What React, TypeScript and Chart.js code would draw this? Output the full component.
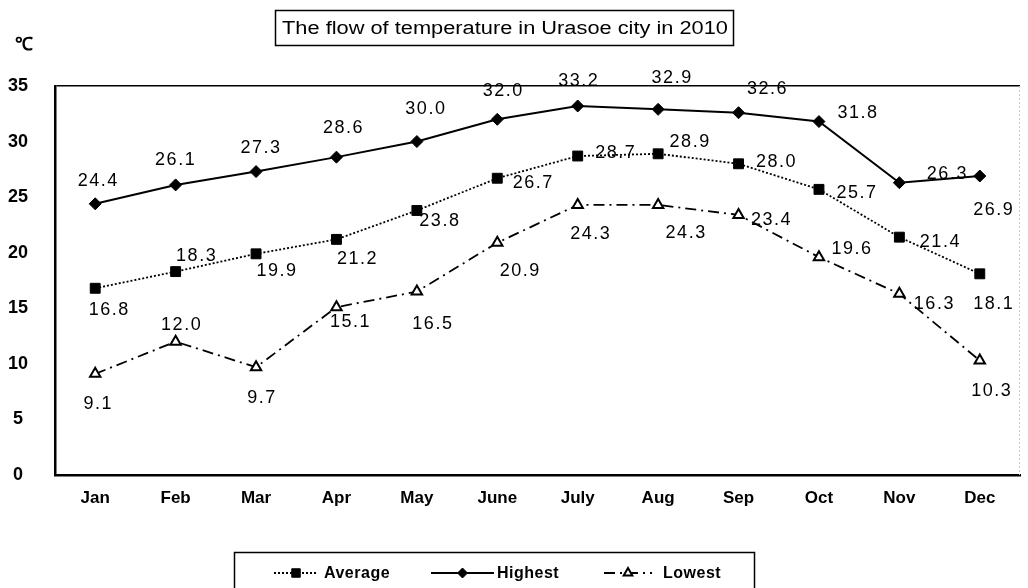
import React, { useEffect, useRef } from "react";
import { Chart, registerables } from "chart.js";

Chart.register(...registerables);

// ---- data ----
const months = ["Jan", "Feb", "Mar", "Apr", "May", "June", "July", "Aug", "Sep", "Oct", "Nov", "Dec"];
const averageTemps = [16.8, 18.3, 19.9, 21.2, 23.8, 26.7, 28.7, 28.9, 28.0, 25.7, 21.4, 18.1];
const highestTemps = [24.4, 26.1, 27.3, 28.6, 30.0, 32.0, 33.2, 32.9, 32.6, 31.8, 26.3, 26.9];
const lowestTemps = [9.1, 12.0, 9.7, 15.1, 16.5, 20.9, 24.3, 24.3, 23.4, 19.6, 16.3, 10.3];
const yTickValues = [0, 5, 10, 15, 20, 25, 30, 35];
const seriesNames = ["Average", "Highest", "Lowest"];
const titleText = "The flow of temperature in Urasoe city in 2010";
const unitText = "℃";

// ---- value label placement (offset of label centre from its point) ----
const averageLabelOffsets = [[13, 22], [20, -16], [20, 17], [20, 20], [22, 11], [35, 5], [37, -3], [31, -12], [37, -2], [37, 4], [40, 5], [13, 30]];
const highestLabelOffsets = [[2, -23], [-1, -25], [4, -24], [6, -29], [8, -33], [5, -28], [0, -25], [13, -31], [28, -24], [38, -9], [47, -9], [13, 34]];
const lowestLabelOffsets = [[2, 30], [5, -17], [5, 31], [13, 15], [15, 32], [22, 28], [12, 29], [27, 28], [32, 5], [32, -8], [34, 10], [11, 31]];

const LABEL_FONT = '18px "Liberation Sans", Arial, sans-serif';
const BOLD_FONT = '"Liberation Sans", Arial, sans-serif';

function drawMarker(ctx: CanvasRenderingContext2D, style: string, x: number, y: number, r: number, fill: string, stroke: string, bw: number) {
  ctx.save();
  ctx.setLineDash([]);
  ctx.beginPath();
  if (style === "rect") {
    const s = Math.SQRT1_2 * r;
    ctx.rect(x - s, y - s, 2 * s, 2 * s);
  } else if (style === "rectRot") {
    ctx.moveTo(x - r, y);
    ctx.lineTo(x, y - r);
    ctx.lineTo(x + r, y);
    ctx.lineTo(x, y + r);
    ctx.closePath();
  } else {
    const a = (2 * Math.PI) / 3;
    ctx.moveTo(x, y - r);
    ctx.lineTo(x + Math.sin(a) * r, y - Math.cos(a) * r);
    ctx.lineTo(x + Math.sin(2 * a) * r, y - Math.cos(2 * a) * r);
    ctx.closePath();
  }
  ctx.fillStyle = fill;
  ctx.fill();
  ctx.lineWidth = bw;
  ctx.strokeStyle = stroke;
  ctx.stroke();
  ctx.restore();
}

const valueLabelPlugin = {
  id: "valueLabels",
  afterDatasetsDraw(chart: any) {
    const ctx = chart.ctx as CanvasRenderingContext2D;
    ctx.save();
    ctx.font = LABEL_FONT;
    (ctx as any).letterSpacing = "1.5px";
    ctx.fillStyle = "#000";
    ctx.textAlign = "center";
    ctx.textBaseline = "middle";
    chart.data.datasets.forEach((ds: any, di: number) => {
      const meta = chart.getDatasetMeta(di);
      const offs = ds.labelOffsets as number[][];
      meta.data.forEach((el: any, i: number) => {
        const v = ds.data[i] as number;
        ctx.fillText(v.toFixed(1), el.x + offs[i][0] + 1, el.y + offs[i][1]);
      });
    });
    ctx.restore();
  },
};

const decorPlugin = {
  id: "decor",
  afterDraw(chart: any) {
    const ctx = chart.ctx as CanvasRenderingContext2D;
    const area = chart.chartArea;
    ctx.save();
    // faint right border
    ctx.strokeStyle = "#c8c8c8";
    ctx.lineWidth = 1;
    ctx.setLineDash([2, 2]);
    ctx.beginPath();
    ctx.moveTo(area.right - 0.5, area.top);
    ctx.lineTo(area.right - 0.5, area.bottom);
    ctx.stroke();
    ctx.setLineDash([]);

    // title box
    ctx.strokeStyle = "#000";
    ctx.lineWidth = 1.5;
    ctx.strokeRect(275.5, 10.5, 458, 35);
    ctx.font = '18px "Liberation Sans", Arial, sans-serif';
    const tw = ctx.measureText(titleText).width;
    ctx.fillStyle = "#000";
    ctx.textAlign = "center";
    ctx.textBaseline = "middle";
    ctx.save();
    ctx.translate(505, 29);
    ctx.scale(446 / tw, 1);
    ctx.fillText(titleText, 0, 0);
    ctx.restore();

    // unit
    ctx.font = "bold 18px " + BOLD_FONT;
    ctx.fillText(unitText, 24, 45);

    // legend
    ctx.lineWidth = 1.5;
    ctx.strokeRect(234.5, 552.5, 520, 50);
    const items = [
      { x0: 274, x1: 318, tx: 324 },
      { x0: 431, x1: 494, tx: 497 },
      { x0: 604, x1: 652, tx: 663 },
    ];
    const ly = 573;
    chart.data.datasets.forEach((ds: any, i: number) => {
      const it = items[i];
      ctx.save();
      ctx.strokeStyle = ds.borderColor;
      ctx.lineWidth = ds.borderWidth;
      ctx.setLineDash(ds.borderDash || []);
      ctx.beginPath();
      ctx.moveTo(it.x0, ly);
      ctx.lineTo(it.x1, ly);
      ctx.stroke();
      ctx.restore();
      drawMarker(ctx, ds.pointStyle, (it.x0 + it.x1) / 2, ly, ds.pointRadius - 1, ds.pointBackgroundColor, ds.pointBorderColor, ds.pointBorderWidth);
      ctx.save();
      ctx.font = "bold 16px " + BOLD_FONT;
      (ctx as any).letterSpacing = "0.5px";
      ctx.fillStyle = "#000";
      ctx.textAlign = "left";
      ctx.textBaseline = "middle";
      ctx.fillText(ds.label, it.tx, ly + 1);
      ctx.restore();
    });
    ctx.restore();
  },
};

export default function App() {
  const canvasRef = useRef<HTMLCanvasElement | null>(null);

  useEffect(() => {
    document.body.style.margin = "0";
    const canvas = canvasRef.current;
    if (!canvas) return;
    const chart = new Chart(canvas, {
      type: "line",
      data: {
        labels: months,
        datasets: [
          {
            label: seriesNames[0],
            data: averageTemps,
            borderColor: "#000",
            borderWidth: 1.8,
            borderDash: [2, 2],
            pointStyle: "rect",
            pointRadius: 7,
            pointBackgroundColor: "#000",
            pointBorderColor: "#000",
            pointBorderWidth: 1,
            tension: 0,
            labelOffsets: averageLabelOffsets,
          } as any,
          {
            label: seriesNames[1],
            data: highestTemps,
            borderColor: "#000",
            borderWidth: 2,
            borderDash: [],
            pointStyle: "rectRot",
            pointRadius: 6,
            pointBackgroundColor: "#000",
            pointBorderColor: "#000",
            pointBorderWidth: 1,
            tension: 0,
            labelOffsets: highestLabelOffsets,
          } as any,
          {
            label: seriesNames[2],
            data: lowestTemps,
            borderColor: "#000",
            borderWidth: 1.8,
            borderDash: [11, 5, 2, 5],
            pointStyle: "triangle",
            pointRadius: 6,
            pointBackgroundColor: "#fff",
            pointBorderColor: "#000",
            pointBorderWidth: 2,
            tension: 0,
            labelOffsets: lowestLabelOffsets,
          } as any,
        ],
      },
      options: {
        responsive: false,
        animation: false,
        events: [],
        layout: { padding: { top: 86, bottom: 73, left: 0, right: 2 } },
        plugins: {
          legend: { display: false },
          title: { display: false },
          tooltip: { enabled: false },
        },
        scales: {
          x: {
            offset: true,
            grid: { display: false, drawTicks: false },
            border: { display: true, color: "#000", width: 2.5 },
            ticks: {
              color: "#000",
              font: { family: BOLD_FONT, size: 17, weight: "bold" },
              padding: 13,
              maxRotation: 0,
              autoSkip: false,
            },
            afterFit(scale: any) {
              scale.height = 40;
            },
          },
          y: {
            min: 0,
            max: 35,
            afterBuildTicks(scale: any) {
              scale.ticks = yTickValues.map((v) => ({ value: v }));
            },
            grid: {
              drawTicks: false,
              color: (c: any) => (c.tick && c.tick.value === 35 ? "#000" : "rgba(0,0,0,0)"),
              lineWidth: 1.5,
            },
            border: { display: true, color: "#000", width: 2.5 },
            ticks: {
              color: "#000",
              font: { family: BOLD_FONT, size: 18, weight: "bold" },
              crossAlign: "center",
              padding: 27,
            },
            afterFit(scale: any) {
              scale.width = 55;
            },
          },
        },
      },
      plugins: [valueLabelPlugin, decorPlugin],
    });
    return () => chart.destroy();
  }, []);

  return (
    <div style={{ width: 1028, height: 588 }}>
      <canvas ref={canvasRef} width={1028} height={588} style={{ display: "block" }} />
    </div>
  );
}
